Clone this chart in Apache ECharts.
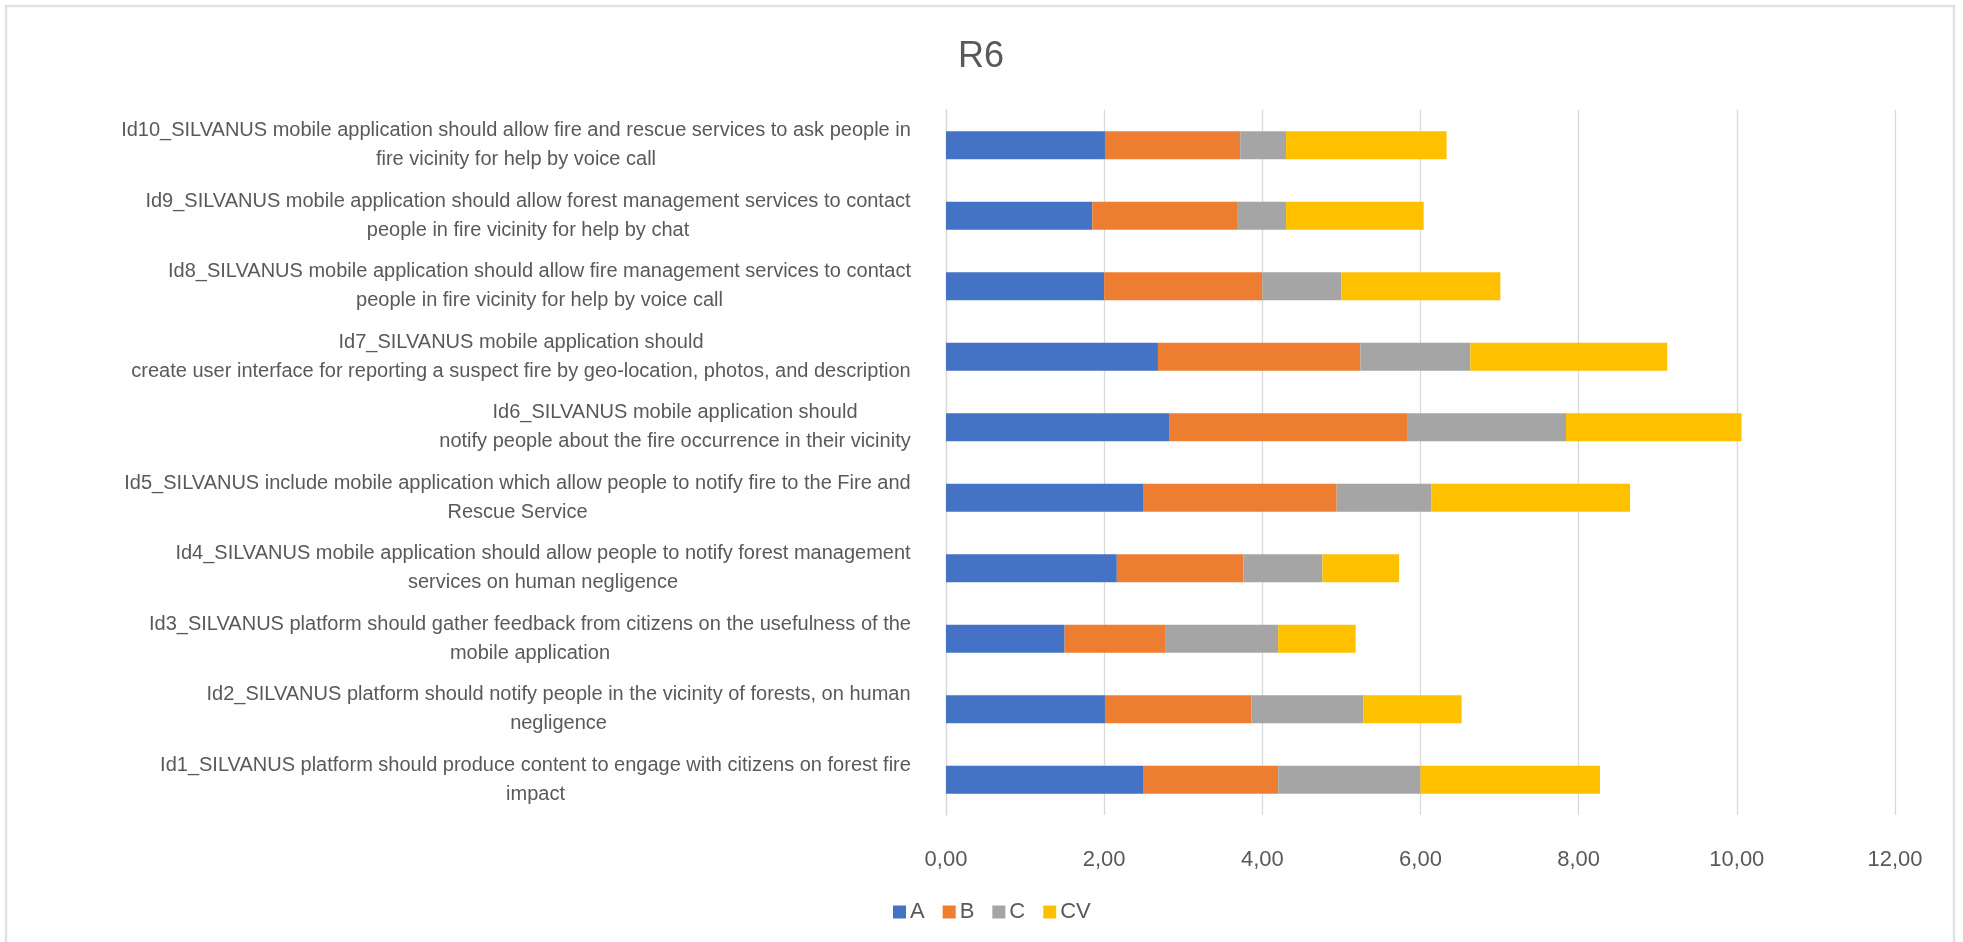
<!DOCTYPE html>
<html>
<head>
<meta charset="utf-8">
<script src="https://cdn.jsdelivr.net/npm/echarts@6/dist/echarts.min.js"></script>
<style>
html,body{margin:0;padding:0;background:#fff;}
#chart{width:1963px;height:942px;}
</style>
</head>
<body>
<div id="chart"></div>
<script>
// Categories listed bottom (Id1) to top (Id10)
const categories = [
  "Id1_SILVANUS platform should produce content to engage with citizens on forest fire\nimpact",
  "Id2_SILVANUS platform should notify people in the vicinity of forests, on human\nnegligence",
  "Id3_SILVANUS platform should gather feedback from citizens on the usefulness of the\nmobile application",
  "Id4_SILVANUS mobile application should allow people to notify forest management\nservices on human negligence",
  "Id5_SILVANUS include mobile application which allow people to notify fire to the Fire and\nRescue Service",
  "Id6_SILVANUS mobile application should\nnotify people about the fire occurrence in their vicinity",
  "Id7_SILVANUS mobile application should\ncreate user interface for reporting a suspect fire by geo-location, photos, and description",
  "Id8_SILVANUS mobile application should allow fire management services to contact\npeople in fire vicinity for help by voice call",
  "Id9_SILVANUS mobile application should allow forest management services to contact\npeople in fire vicinity for help by chat",
  "Id10_SILVANUS mobile application should allow fire and rescue services to ask people in\nfire vicinity for help by voice call"
];
const seriesNames = ["A", "B", "C", "CV"];
const valuesA  = [2.50, 2.01, 1.50, 2.16, 2.50, 2.82, 2.68, 2.00, 1.85, 2.01];
const valuesB  = [1.70, 1.85, 1.27, 1.60, 2.44, 3.01, 2.56, 2.00, 1.84, 1.71];
const valuesC  = [1.80, 1.42, 1.43, 1.00, 1.20, 2.01, 1.39, 1.00, 0.61, 0.58];
const valuesCV = [2.27, 1.24, 0.98, 0.97, 2.51, 2.22, 2.49, 2.01, 1.74, 2.03];
const xTicks = { min: 0, max: 12, interval: 2 };

const FONT = "'Liberation Sans', sans-serif";
const LABEL_SIZE = 20;
const TEXT_COLOR = "#595959";

// measure each label block width to center lines within their block
const cv = document.createElement('canvas');
const ctx = cv.getContext('2d');
ctx.font = LABEL_SIZE + "px " + FONT;
const rich = {};
categories.forEach((c, i) => {
  const w = Math.max(...c.split('\n').map(l => ctx.measureText(l).width));
  rich['c' + i] = {
    width: Math.ceil(w) + 2, align: 'center',
    fontSize: LABEL_SIZE, fontFamily: FONT, color: TEXT_COLOR, lineHeight: 29
  };
});

const colors = ["#4472C4", "#ED7D31", "#A5A5A5", "#FFC000"];
const allValues = [valuesA, valuesB, valuesC, valuesCV];

const chart = echarts.init(document.getElementById('chart'), null, {renderer: 'canvas'});
chart.setOption({
  animation: false,
  backgroundColor: '#ffffff',
  color: colors,
  title: {
    text: 'R6',
    left: 976, top: 34, textAlign: 'center',
    textStyle: { fontFamily: FONT, fontSize: 36, fontWeight: 'normal', color: TEXT_COLOR }
  },
  graphic: [{
    type: 'rect', silent: true,
    shape: { x: 6, y: 6, width: 1948, height: 980 },
    style: { fill: 'none', stroke: '#e2e2e2', lineWidth: 2.5 }
  }],
  legend: {
    data: seriesNames,
    left: 888, top: 896,
    itemWidth: 13, itemHeight: 13, itemGap: 18,
    icon: 'rect',
    textStyle: { fontFamily: FONT, fontSize: 22, color: TEXT_COLOR, padding: [0, 0, 0, -1] }
  },
  grid: { left: 946, right: 68, top: 110, bottom: 127, containLabel: false },
  xAxis: {
    type: 'value',
    min: xTicks.min, max: xTicks.max, interval: xTicks.interval,
    axisLine: { show: false }, axisTick: { show: false },
    splitLine: { show: true, lineStyle: { color: '#d9d9d9', width: 1.3 } },
    axisLabel: {
      margin: 34, fontFamily: FONT, fontSize: 22, color: TEXT_COLOR,
      formatter: v => v.toFixed(2).replace('.', ',')
    }
  },
  yAxis: {
    type: 'category',
    data: categories,
    axisLine: { show: true, lineStyle: { color: '#d9d9d9', width: 1.3 } },
    axisTick: { show: false },
    axisLabel: {
      margin: 34, align: 'right',
      fontFamily: FONT, fontSize: LABEL_SIZE, color: TEXT_COLOR, lineHeight: 29,
      rich: rich,
      formatter: (value, idx) => value.split('\n').map(l => '{c' + idx + '|' + l + '}').join('\n')
    }
  },
  series: seriesNames.map((n, i) => ({
    name: n, type: 'bar', stack: 'total', barWidth: 28,
    data: allValues[i],
    itemStyle: { color: colors[i] }
  }))
});
</script>
</body>
</html>
